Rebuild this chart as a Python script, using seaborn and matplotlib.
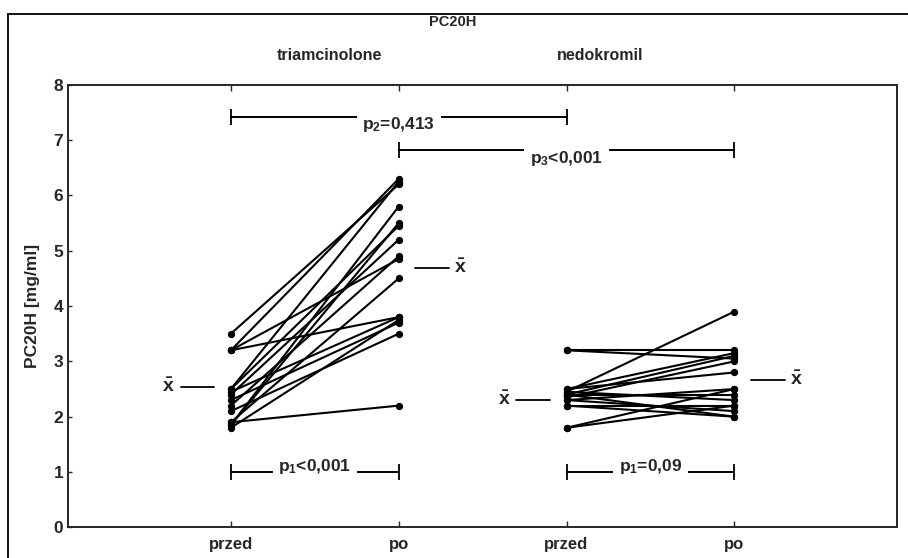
import numpy as np
import pandas as pd
import matplotlib
matplotlib.use("Agg")
import matplotlib.pyplot as plt
import seaborn as sns

# PC20H before/after (przed/po) for both drugs, one pair per patient
triam_przed = [3.5, 3.2, 3.2, 3.2, 2.5, 2.45, 2.4, 2.3, 2.2, 2.1, 1.9, 1.85, 1.85, 1.9, 2.5, 1.8]
triam_po = [6.2, 6.3, 3.8, 4.85, 5.45, 3.8, 5.2, 3.7, 4.9, 3.5, 2.2, 5.8, 5.5, 4.5, 6.25, 3.75]
nedo_przed = [3.2, 3.2, 2.45, 2.5, 2.4, 2.35, 2.5, 2.3, 2.4, 2.45, 2.2, 2.3, 2.2, 1.8, 1.8, 2.4]
nedo_po = [3.2, 3.05, 3.9, 3.15, 3.1, 3.0, 2.8, 2.5, 2.4, 2.3, 2.2, 2.1, 2.0, 2.5, 2.2, 2.0]

groups = ["triamcinolone", "nedokromil"]
times = ["przed", "po"]
tick_labels = ["przed", "po", "przed", "po"]
means = {"triamcinolone": [2.53, 4.69], "nedokromil": [2.31, 2.67]}
p_labels = [r"p$_1$<0,001", r"p$_1$=0,09", r"p$_2$=0,413", r"p$_3$<0,001"]

# build long table
rows = []
for g_i, (g, pre, post) in enumerate([("triamcinolone", triam_przed, triam_po),
                                      ("nedokromil", nedo_przed, nedo_po)]):
    for s, (a, b) in enumerate(zip(pre, post)):
        rows.append({"subject": f"{g}_{s}", "group": g, "time": "przed", "xpos": 2 * g_i + 1, "value": a})
        rows.append({"subject": f"{g}_{s}", "group": g, "time": "po", "xpos": 2 * g_i + 2, "value": b})
df = pd.DataFrame(rows)

sns.set_style("ticks")
plt.rcParams["font.family"] = ["Liberation Sans", "DejaVu Sans"]
plt.rcParams["font.weight"] = "bold"
plt.rcParams["mathtext.fontset"] = "custom"
plt.rcParams["mathtext.rm"] = "Liberation Sans:bold"
plt.rcParams["mathtext.it"] = "Liberation Sans:bold"
plt.rcParams["mathtext.bf"] = "Liberation Sans:bold"

fig = plt.figure(figsize=(9.08, 5.58), dpi=100)
ax = fig.add_axes([0.075, 0.055, 0.913, 0.793])

sns.lineplot(data=df, x="xpos", y="value", units="subject", estimator=None,
             color="black", linewidth=1.5, marker="o", markersize=4.5,
             markeredgecolor="black", ax=ax, legend=False)

ax.set_xlim(0.03, 4.97)
ax.set_ylim(0, 8)
ax.set_xticks([1, 2, 3, 4])
ax.set_xticklabels(tick_labels, fontsize=12, fontweight="bold")
ax.set_yticks(range(0, 9))
ax.tick_params(axis="y", labelsize=12.5, direction="in", length=3, width=1)
ax.tick_params(axis="x", direction="in", length=4, width=1, top=True, pad=7)
ax.set_xlabel("")
ax.set_ylabel("PC20H [mg/ml]", fontsize=12.5, fontweight="bold", labelpad=10)
for sp in ax.spines.values():
    sp.set_visible(True)
    sp.set_linewidth(1.4)

# mean markers
xbar = r"$\bar{\mathrm{x}}$"
for g_i, g in enumerate(groups):
    m_pre, m_post = means[g]
    x_pre, x_post = 2 * g_i + 1, 2 * g_i + 2
    ax.plot([x_pre - 0.3, x_pre - 0.1], [m_pre, m_pre], color="black", lw=1.3)
    ax.text(x_pre - 0.37, m_pre, xbar, ha="center", va="center", fontsize=14)
    ax.plot([x_post + 0.1, x_post + 0.3], [m_post, m_post], color="black", lw=1.3)
    ax.text(x_post + 0.37, m_post, xbar, ha="center", va="center", fontsize=14)


def bracket(x1, x2, y, label, dy):
    ax.plot([x1, x2], [y, y], color="black", lw=1.4)
    ax.plot([x1, x2], [y, y], linestyle="none", marker="|", markersize=11,
            markeredgewidth=1.3, color="black")
    ax.text((x1 + x2) / 2, y + dy, label, ha="center", va="center", fontsize=12.5,
            bbox=dict(facecolor="white", edgecolor="none", pad=4))


bracket(1, 2, 1.0, p_labels[0], 0.1)
bracket(3, 4, 1.0, p_labels[1], 0.1)
bracket(1, 3, 7.42, p_labels[2], -0.13)
bracket(2, 4, 6.82, p_labels[3], -0.15)

fig.text(0.499, 0.961, "PC20H", ha="center", va="center", fontsize=10.5, fontweight="bold")
fig.text(0.363, 0.901, groups[0], ha="center", va="center", fontsize=11.5, fontweight="bold")
fig.text(0.661, 0.901, groups[1], ha="center", va="center", fontsize=11.5, fontweight="bold")

# outer frame of the figure
fig.add_artist(plt.Line2D([0.009, 0.009], [0, 0.975], transform=fig.transFigure, color="black", lw=1.3))
fig.add_artist(plt.Line2D([0.009, 1.0], [0.975, 0.975], transform=fig.transFigure, color="black", lw=1.3))

fig.savefig("out.png", dpi=100)
